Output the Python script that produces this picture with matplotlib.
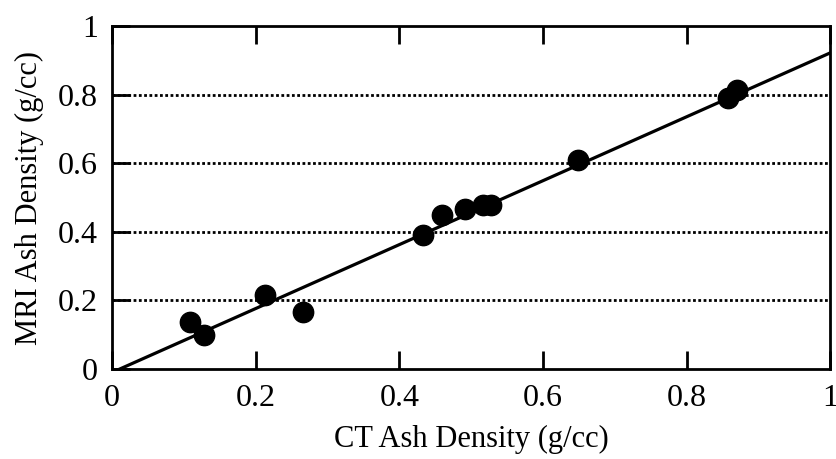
import numpy as np
import matplotlib
matplotlib.use("Agg")
import matplotlib.pyplot as plt

plt.rcParams["font.family"] = ["Liberation Serif", "DejaVu Serif"]

# Measured points (CT vs MRI ash density)
ct_density = [0.109, 0.128, 0.213, 0.266, 0.433, 0.460, 0.492, 0.517, 0.528, 0.649, 0.858, 0.870]
mri_density = [0.137, 0.099, 0.216, 0.166, 0.391, 0.449, 0.466, 0.478, 0.478, 0.609, 0.790, 0.813]

# Regression line
slope = 0.932
intercept = -0.010

ticks = [0, 0.2, 0.4, 0.6, 0.8, 1]
tick_labels = ["0", "0.2", "0.4", "0.6", "0.8", "1"]
grid_levels = [0.2, 0.4, 0.6, 0.8]

fig = plt.figure(figsize=(8.36, 4.59), dpi=100)
ax = fig.add_axes([0.134, 0.196, 0.859, 0.747])

for g in grid_levels:
    ax.axhline(g, color="black", linestyle=(0, (1, 0.9)), linewidth=2, zorder=1)

xs = np.linspace(0, 1, 50)
ax.plot(xs, slope * xs + intercept, color="black", linewidth=2.3, zorder=2)
ax.scatter(ct_density, mri_density, s=215, color="black", zorder=3)

ax.set_xlim(0, 1)
ax.set_ylim(0, 1)
ax.set_xticks(ticks)
ax.set_xticklabels(tick_labels)
ax.set_yticks(ticks)
ax.set_yticklabels(tick_labels)
ax.tick_params(axis="both", direction="in", length=13, width=2, labelsize=23,
               top=True, right=False)
ax.tick_params(axis="x", pad=11)
ax.tick_params(axis="y", pad=10)
for s in ax.spines.values():
    s.set_linewidth(2)

ax.set_xlabel("CT Ash Density (g/cc)", fontsize=22, labelpad=8)
ax.set_ylabel("MRI Ash Density (g/cc)", fontsize=22, labelpad=10)

fig.savefig("out.png", dpi=100)
